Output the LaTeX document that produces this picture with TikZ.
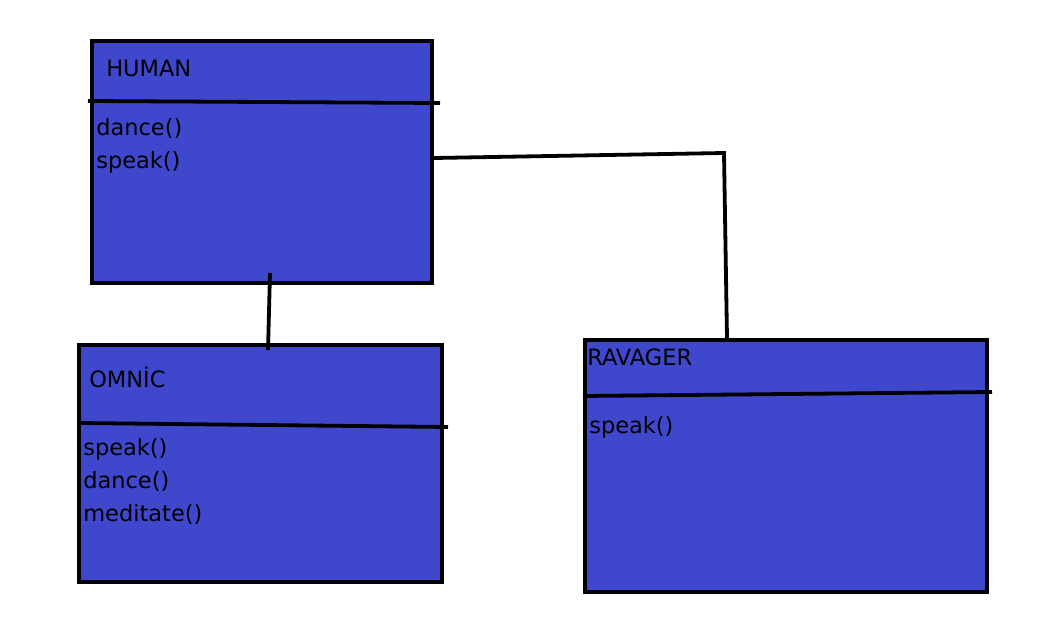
\documentclass[tikz,border=0pt]{standalone}
\usepackage{fontspec}
\setmainfont{DejaVu Sans}
\definecolor{classfill}{HTML}{3F48CC}

\begin{document}
\begin{tikzpicture}[
  x=0.025cm, y=-0.025cm,
  line/.style={draw=black, line width=2.7pt},
  box/.style={draw=black, line width=3pt, fill=classfill, inner sep=0pt},
  note/.style={anchor=base west, inner sep=0pt, font=\fontsize{16}{18}\selectfont, text=black}
]
\useasboundingbox[fill=white] (0,0) rectangle (1042,631);

% class boxes
\node[box, minimum width=340*0.025cm, minimum height=242*0.025cm] (human) at (262,162) {};
\node[box, minimum width=363*0.025cm, minimum height=237*0.025cm] (omnic) at (260.5,463.5) {};
\node[box, minimum width=402*0.025cm, minimum height=252*0.025cm] (ravager) at (786,466) {};

% dividers
\draw[line] (88,101) -- (440,103);
\draw[line] (79,423) -- (448,427);
\draw[line] (583,396) -- (992,392);

% names and methods
\node[note] (humanname) at (106,76) {HUMAN};
\node[note] (humandance) at (96,135) {dance()};
\node[note] (humanspeak) at (96,168) {speak()};

\node[note] (omnicname) at (89,387) {OMNİC};
\node[note] (omnicspeak) at (83,455) {speak()};
\node[note] (omnicdance) at (83,488) {dance()};
\node[note] (omnicmeditate) at (83,521) {meditate()};

\node[note] (ravagername) at (587,365) {RAVAGER};
\node[note] (ravagerspeak) at (589,433) {speak()};

% links
\coordinate (hstub) at (270,273);
\coordinate (ostub) at (268,350);
\coordinate (bend) at (724,153);
\draw[line] (hstub) -- (ostub);
\draw[line] (human.east |- 0,158) -- (bend) -- (ravager.north -| 727,0);

\end{tikzpicture}
\end{document}
